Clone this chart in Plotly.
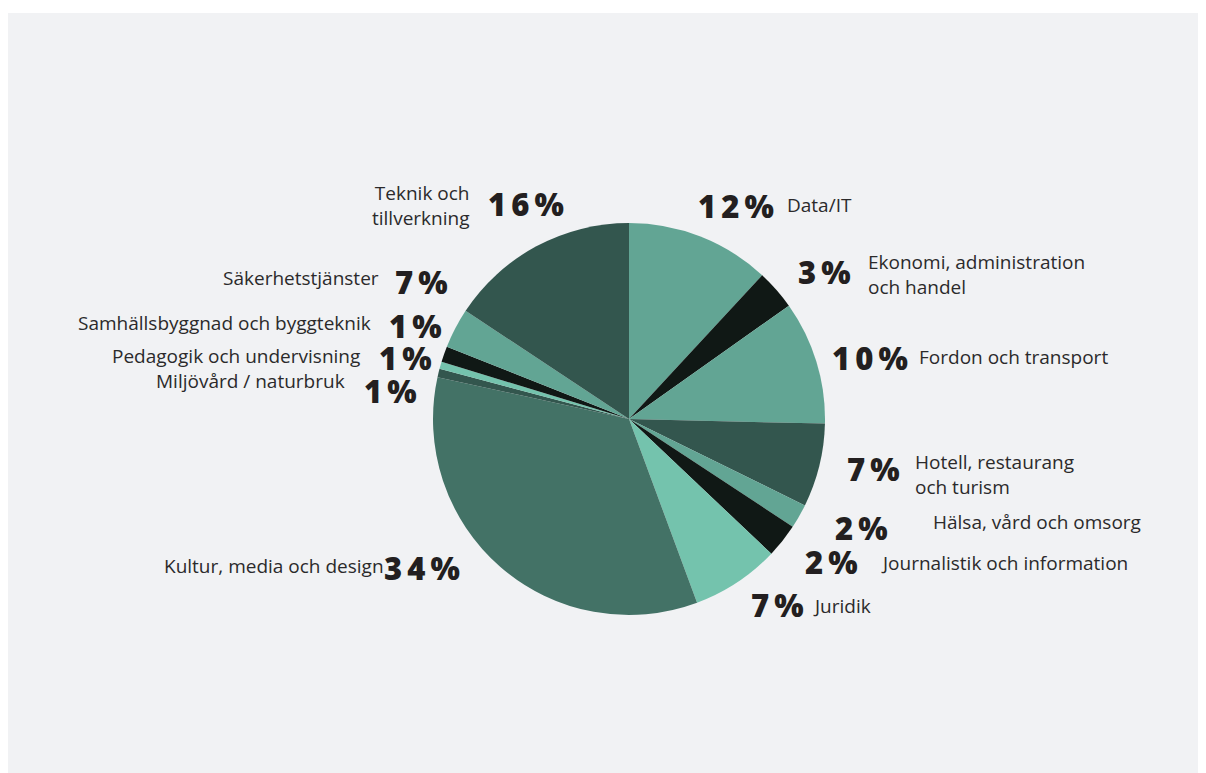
import plotly.graph_objects as go

W, H = 1206, 773
OFF = 8  # page body margin

# Slice shares as drawn (% of the circle), clockwise from 12 o'clock
categories = [
    "Data/IT", "Ekonomi, administration och handel", "Fordon och transport",
    "Hotell, restaurang och turism", "Hälsa, vård och omsorg",
    "Journalistik och information", "Juridik", "Kultur, media och design",
    "Miljövård / naturbruk", "Pedagogik och undervisning",
    "Samhällsbyggnad och byggteknik", "Säkerhetstjänster", "Teknik och tillverkning",
]
slice_values = [11.9, 3.3, 10.2, 6.9, 2.0, 2.8, 7.3, 34.1, 0.7, 0.6, 1.3, 3.3, 15.7]
# Percentages as printed on the chart
printed_pct = [12, 3, 10, 7, 2, 2, 7, 34, 1, 1, 1, 7, 16]
# Label text as printed (with line breaks)
label_text = [
    "Data/IT", "Ekonomi, administration<br>och handel", "Fordon och transport",
    "Hotell, restaurang<br>och turism", "Hälsa, vård och omsorg",
    "Journalistik och information", "Juridik", "Kultur, media och design",
    "Miljövård / naturbruk", "Pedagogik och undervisning",
    "Samhällsbyggnad och byggteknik", "Säkerhetstjänster", "Teknik och<br>tillverkning",
]

TEAL = "#62a594"
BLACK = "#101815"
DARK = "#33564e"
LIGHT = "#74c3ad"
MID = "#437266"
colors = [TEAL, BLACK, TEAL, DARK, TEAL, BLACK, LIGHT, MID, DARK, LIGHT, BLACK, TEAL, DARK]

# Label layout (page pixel positions): (pct_x, pct_y, pct_anchor, text_x, text_y, text_anchor)
label_pos = [
    (696, 206, "left", 785, 205, "left"),
    (796, 272, "left", 866, 275, "left"),
    (830, 358, "left", 917, 357, "left"),
    (845, 469, "left", 913, 474, "left"),
    (833, 528, "left", 931, 522, "left"),
    (803, 562, "left", 879, 563, "left"),
    (749, 605, "left", 811, 606, "left"),
    (382, 568, "left", 386, 566, "right"),
    (362, 391, "left", 347, 381, "right"),
    (377, 358, "left", 362, 356, "right"),
    (387, 326, "left", 373, 323, "right"),
    (393, 282, "left", 381, 278, "right"),
    (486, 204, "left", 472, 205, "right"),
]

cx, cy, r = 629, 419, 196

def px(x):
    return (x - OFF) / W

def py(y):
    return 1 - (y - OFF) / H

fig = go.Figure(go.Pie(
    labels=categories,
    values=slice_values,
    sort=False,
    direction="clockwise",
    rotation=0,
    marker=dict(colors=colors, line=dict(width=0)),
    textinfo="none",
    hoverinfo="label",
    showlegend=False,
    domain=dict(x=[px(cx - r), px(cx + r)], y=[py(cy + r), py(cy - r)]),
))

TS = "\u2009"
annotations = []
for i, cat in enumerate(categories):
    pxx, pyy, pa, tx, ty, ta = label_pos[i]
    pct_str = TS.join(list(str(printed_pct[i]))) + TS + "%"
    annotations.append(dict(
        x=px(pxx), y=py(pyy), xref="paper", yref="paper",
        text=pct_str, showarrow=False, xanchor=pa, yanchor="middle",
        font=dict(family="Open Sans", size=31, color="#231f20", weight=800),
    ))
    annotations.append(dict(
        x=px(tx), y=py(ty), xref="paper", yref="paper",
        text=label_text[i], showarrow=False, xanchor=ta, yanchor="middle",
        align=ta, font=dict(family="Open Sans", size=19, color="#2b2a2b"),
    ))

fig.update_layout(
    width=W, height=H,
    margin=dict(l=0, r=0, t=0, b=0),
    paper_bgcolor="#f1f2f4",
    plot_bgcolor="#f1f2f4",
    annotations=annotations,
    shapes=[
        dict(type="rect", xref="paper", yref="paper", x0=0, x1=1, y0=py(13), y1=1,
             fillcolor="white", line=dict(width=0), layer="below"),
    ],
)

fig.write_html("out.html")
